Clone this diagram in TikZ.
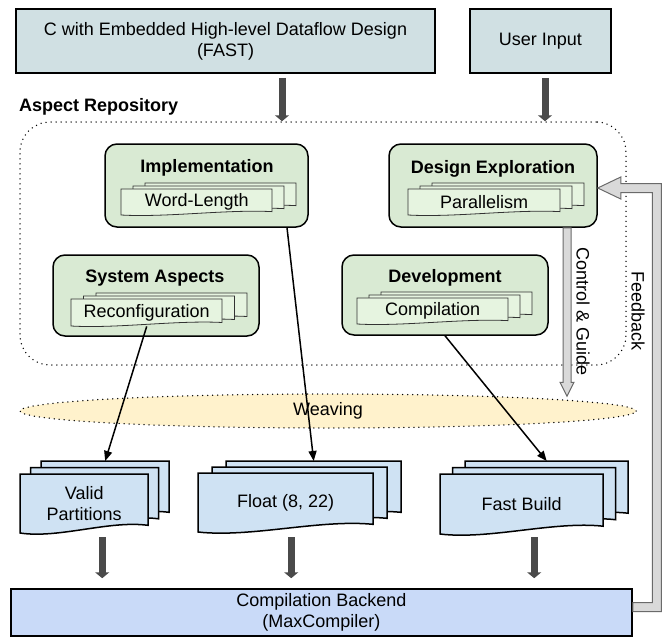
\documentclass[tikz,border=0pt]{standalone}
\usepackage{fontspec}
\setmainfont{Liberation Sans}
\usetikzlibrary{arrows.meta,calc,shapes.geometric}
\definecolor{topfill}{HTML}{D0E0E3}
\definecolor{aspfill}{HTML}{D9EAD3}
\definecolor{innerfill}{HTML}{E6F4E0}
\definecolor{docfill}{HTML}{CFE2F3}
\definecolor{backfill}{HTML}{C9DAF8}
\definecolor{weavefill}{HTML}{FFF2CC}
\definecolor{darkarrow}{HTML}{4A4A4A}
\definecolor{hollowfill}{HTML}{D9D9D9}
\definecolor{hollowline}{HTML}{6A6A6A}
% document shape with wavy bottom: x y w h style
\newcommand{\docpath}[5]{\filldraw[#5] (#1,#2) -- ({#1+#3},#2) -- ({#1+#3},{#2+0.87*#4}) .. controls ({#1+0.7*#3},{#2+0.78*#4}) and ({#1+0.3*#3},{#2+1.1*#4}) .. (#1,{#2+#4}) -- cycle;}
% stack of three documents: x y w h dx dy style
\newcommand{\docstack}[7]{%
  \docpath{#1+2*#5}{#2+2*#6}{#3}{#4}{#7}%
  \docpath{#1+#5}{#2+#6}{#3}{#4}{#7}%
  \docpath{#1}{#2}{#3}{#4}{#7}}
\begin{document}
\begin{tikzpicture}[x=1pt,y=-1pt,
  every node/.style={font=\fontsize{18}{21}\selectfont},
  topbox/.style={draw=black, line width=1.5pt, fill=topfill, align=center, inner sep=0pt},
  aspbox/.style={draw=black, line width=1.5pt, fill=aspfill, rounded corners=12pt, inner sep=0pt},
  title/.style={font=\fontsize{18}{21}\selectfont\bfseries},
  innerdoc/.style={draw=black!80, line width=0.8pt, fill=innerfill},
  bluedoc/.style={draw=black, line width=1.5pt, fill=docfill},
  doctext/.style={inner sep=0pt, anchor=north west, align=center},
  dotline/.style={line width=1.5pt, dash pattern=on 0pt off 5pt, line cap=round},
  thickarr/.style={line width=7pt, darkarrow, -{Triangle[length=6pt,width=14pt]}},
  thinarr/.style={line width=1.5pt, black, -{Triangle[length=10pt,width=8pt]}},
  hollow/.style={draw=hollowline, fill=hollowfill, line width=1pt, line join=miter}]
\useasboundingbox (0,0) rectangle (665,637);

% top input boxes
\node[topbox, minimum width=419pt, minimum height=64pt] (fast) at (225.5,41) {C with Embedded High-level Dataflow Design\\(FAST)};
\node[topbox, minimum width=141pt, minimum height=64pt] (user) at (540.5,41) {User Input};

% aspect repository
\node[anchor=west, title, inner sep=0pt] (aspr) at (19,107) {Aspect Repository};
\node[draw=black, dotline, rounded corners=30pt, minimum width=606pt, minimum height=243pt, inner sep=0pt] (repo) at (323,243.5) {};

\draw[thickarr, shorten <=4pt] ([xshift=56.5pt]fast.south) -- ([xshift=56.5pt]fast.south |- repo.north);
\draw[thickarr, shorten <=4pt] ([xshift=4.5pt]user.south) -- ([xshift=4.5pt]user.south |- repo.north);

% aspect boxes
\node[aspbox, minimum width=203pt, minimum height=83pt] (impl) at (206.5,185.5) {};
\node[title] (implt) at (207,168) {Implementation};
\docstack{121}{189}{151}{26}{12}{-3}{innerdoc}
\node[doctext, minimum width=151pt, minimum height=26pt] (wl) at (121,189) {Word-Length};

\node[aspbox, minimum width=208pt, minimum height=83pt] (design) at (493,185.5) {};
\node[title] (designt) at (493,169) {Design Exploration};
\docstack{408}{189}{152}{26}{12}{-3}{innerdoc}
\node[doctext, minimum width=152pt, minimum height=26pt] (par) at (408,189) {Parallelism};

\node[aspbox, minimum width=206pt, minimum height=81pt] (sys) at (156,295.5) {};
\node[title] (syst) at (155,278) {System Aspects};
\docstack{71}{299}{151}{27}{12.5}{-3}{innerdoc}
\node[doctext, minimum width=151pt, minimum height=27pt] (reconf) at (71,299) {Reconfiguration};

\node[aspbox, minimum width=206pt, minimum height=80pt] (dev) at (445,295) {};
\node[title] (devt) at (445,278) {Development};
\docstack{357}{298}{151}{26}{12}{-3}{innerdoc}
\node[doctext, minimum width=151pt, minimum height=26pt] (compil) at (357,298) {Compilation};

% weaving
\node[ellipse, draw=black, dotline, fill=weavefill, minimum width=616pt, minimum height=34pt, inner sep=0pt] (weave) at (328,411) {Weaving};

% output document stacks
\docstack{20}{474}{128}{59}{10.5}{-6.5}{bluedoc}
\node[doctext, minimum width=128pt, minimum height=59pt] (valid) at (20,474) {Valid\\Partitions};
\docstack{198}{473}{175}{59}{14}{-6}{bluedoc}
\node[doctext, minimum width=175pt, minimum height=59pt] (float) at (198,473) {Float (8, 22)};
\docstack{440}{474}{163}{60}{12.5}{-6.5}{bluedoc}
\node[doctext, minimum width=163pt, minimum height=60pt] (fastb) at (440,474) {Fast Build};

\coordinate (validtop) at ($(valid.north)+(21,-13)$);
\coordinate (floattop) at ($(float.north)+(28,-12)$);
\coordinate (fasttop) at ($(fastb.north)+(25,-13)$);

% weaving connectors
\draw[thinarr] (reconf.south) -- (validtop);
\draw[thinarr] ([xshift=80.5pt]impl.south) -- (floattop);
\draw[thinarr] (dev.south) -- (fasttop);

% backend
\node[topbox, fill=backfill, minimum width=621pt, minimum height=47pt] (backend) at (321.5,612.5) {Compilation Backend\\(MaxCompiler)};

\coordinate (vb) at ($(valid.south)+(18,4)$);
\coordinate (fb) at ($(float.south)+(5.5,5)$);
\coordinate (bb) at ($(fastb.south)+(12.5,3)$);
\draw[thickarr, shorten >=10pt] (vb) -- (vb |- backend.north);
\draw[thickarr, shorten >=10pt] (fb) -- (fb |- backend.north);
\draw[thickarr, shorten >=10pt] (bb) -- (bb |- backend.north);

% control & guide
\coordinate (cgA) at ([xshift=74pt]design.south);
\coordinate (cgT) at ($(weave.north)+(239,3)$);
\coordinate (cgB) at (cgA |- cgT);
\draw[hollow] ($(cgA)+(-4,0)$) -- ($(cgB)+(-4,-14)$) -- ($(cgB)+(-7,-14)$) -- (cgB) -- ($(cgB)+(7,-14)$) -- ($(cgB)+(4,-14)$) -- ($(cgA)+(4,0)$) -- cycle;
\node[rotate=-90] (cgtext) at (583,312) {Control \& Guide};

% feedback
\coordinate (fbA) at ($(backend.east)+(0,-5.5)$);
\coordinate (fbT) at ($(design.east)+(0,2.5)$);
\draw[hollow] ($(fbA)+(0,-4.5)$) -| ($(fbT)+(54.5,4.5)$) -- ($(fbT)+(23,4.5)$) -- ($(fbT)+(23,11)$) -- (fbT) -- ($(fbT)+(23,-11)$) -- ($(fbT)+(23,-4.5)$) -| ($(fbA)+(28.5,4.5)$) -- ($(fbA)+(0,4.5)$) -- cycle;
\node[rotate=-90] (fbtext) at (638,311) {Feedback};
\end{tikzpicture}
\end{document}
